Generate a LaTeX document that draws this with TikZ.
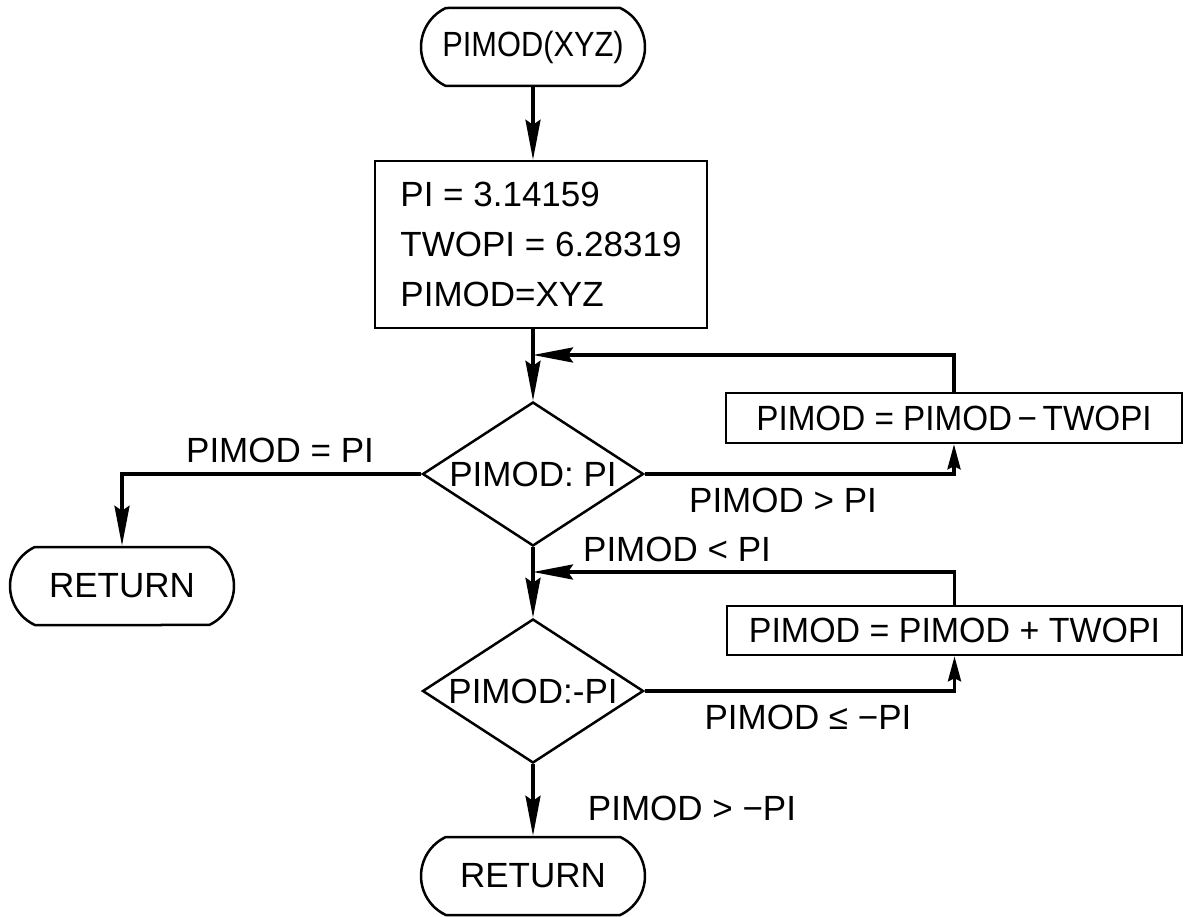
\documentclass[tikz,border=0pt]{standalone}
\usepackage{fontspec}
\setmainfont{Liberation Sans}
\usetikzlibrary{shapes.geometric,shapes.misc,arrows.meta}
\begin{document}
\begin{tikzpicture}[x=1pt,y=-1pt,
  every node/.style={font=\fontsize{35}{50}\selectfont},
  term/.style={draw, rounded rectangle, rounded rectangle arc length=130, line width=2.5pt,
    minimum width=196pt, minimum height=78pt, inner xsep=-14pt, inner ysep=0pt},
  procbox/.style={draw, rectangle, line width=2.5pt, inner sep=0pt},
  decision/.style={draw, diamond, shape aspect=1.535, line width=2.5pt,
    minimum width=221pt, minimum height=144pt, inner sep=0pt},
  lbl/.style={inner sep=0pt},
  flow/.style={line width=3.5pt, -{Stealth[length=40pt,width=15pt,inset=5pt]}},
  shortflow/.style={line width=3.5pt, -{Stealth[length=25pt,width=13pt,inset=3pt]}}]
\useasboundingbox (0,0) rectangle (1189,917);

% nodes
\node[term] (t0) at (533,47) {\scalebox{0.88}[1]{PIMOD(XYZ)}};
\node[procbox, minimum width=332pt, minimum height=167pt, align=left] (box1) at (541,244.5)
  {PI = 3.14159\\TWOPI = 6.28319\\PIMOD=XYZ};
\node[decision] (d1) at (533,474) {PIMOD: PI};
\node[procbox, minimum width=456pt, minimum height=50pt] (box2) at (954,418)
  {\scalebox{0.95}[1]{PIMOD = PIMOD\,−\,TWOPI}};
\node[term] (ret1) at (122,586) {RETURN};
\node[decision] (d2) at (533,691) {PIMOD:-PI};
\node[procbox, minimum width=455pt, minimum height=49pt] (box3) at (954.5,630.5)
  {\scalebox{0.97}[1]{PIMOD = PIMOD + TWOPI}};
\node[term] (ret2) at (533,876) {RETURN};

\coordinate (j1) at (533,355);
\coordinate (j2) at (533,572);

% labels
\node[lbl] (l1) at (280,450) {PIMOD = PI};
\node[lbl] (l2) at (783,500) {PIMOD > PI};
\node[lbl] (l3) at (677,549) {PIMOD < PI};
\node[lbl] (l4) at (808,717) {PIMOD ≤ −PI};
\node[lbl] (l5) at (692,808) {PIMOD > −PI};

% connectors
\draw[flow] (t0.south) -- (t0.south |- box1.north);
\draw[flow] (box1.south -| d1.north) -- (d1.north);
\draw[flow] (box2.north) |- (j1);
\draw[shortflow] (d1.east) -| (box2.south);
\draw[flow] (d1.west) -| (ret1.north);
\draw[flow] (d1.south) -- (d2.north);
\draw[flow] (box3.north) |- (j2);
\draw[shortflow] (d2.east) -| (box3.south);
\draw[flow] (d2.south) -- (ret2.north);
\end{tikzpicture}
\end{document}
